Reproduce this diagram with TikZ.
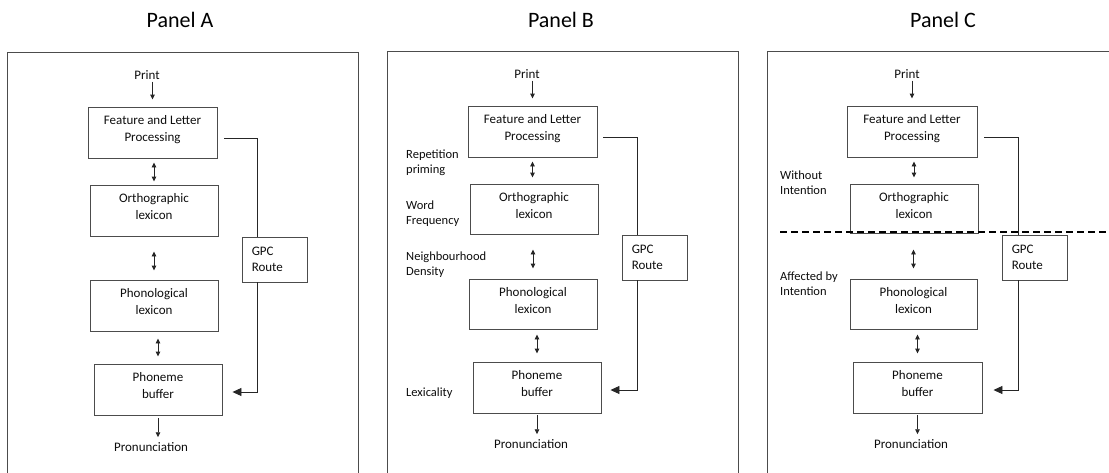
\documentclass[tikz,border=0pt]{standalone}
\usepackage{fontspec}
\setmainfont{Carlito}
\usetikzlibrary{arrows.meta}
\begin{document}
\begin{tikzpicture}[x=1pt,y=-1pt,
  frame/.style={draw=black!70,line width=0.9pt},
  box/.style={draw=black!70,line width=0.9pt,inner sep=0pt,minimum height=51pt},
  btext/.style={font=\fontsize{13}{16.5}\selectfont,align=center,inner sep=0pt,anchor=north,text=black!95},
  gtext/.style={font=\fontsize{13}{16.5}\selectfont,align=left,inner sep=0pt,anchor=west,text=black!95},
  ptext/.style={font=\fontsize{13}{16}\selectfont,inner sep=0pt,text=black!95},
  lbl/.style={font=\fontsize{12.5}{15}\selectfont,align=left,inner sep=0pt,anchor=west,text=black!95},
  title/.style={font=\fontsize{22}{26}\selectfont,inner sep=0pt,text=black},
  conn/.style={draw=black!85,line width=0.9pt},
  arr/.style={conn,-{Triangle[length=5pt,width=4.5pt]}},
  darr/.style={conn,{Triangle[length=5pt,width=4.5pt]}-{Triangle[length=5pt,width=4.5pt]}},
  garr/.style={conn,-{Triangle[length=9pt,width=8pt]}},
  divider/.style={draw=black,line width=1.8pt,dash pattern=on 7pt off 4pt}]
\useasboundingbox (0,0) rectangle (1109,472);

% titles
\node[title] (tA) at (180,20) {Panel A};
\node[title] (tB) at (561,20) {Panel B};
\node[title] (tC) at (943,20) {Panel C};

% frames
\draw[frame] (7,480) -- (7,52) -- (358,52) -- (358,480);
\draw[frame] (387,480) -- (387,51) -- (738,51) -- (738,480);
\draw[frame] (767,480) -- (767,51) -- (1115,51);

%%%%%%%% Panel A
\node[box,minimum width=129pt] (fA) at (152.5,132.5) {};
\node[box,minimum width=128pt] (oA) at (154,210.5) {};
\node[box,minimum width=128pt] (pA) at (154,305.5) {};
\node[box,minimum width=128pt] (mA) at (158,389.5) {};
\node[box,minimum width=65pt,minimum height=45pt] (gA) at (274.5,259.5) {};
\node[btext] (fAt) at ([yshift=-9pt]fA.north) {Feature and Letter\\Processing};
\node[btext] (oAt) at ([yshift=-9pt]oA.north) {Orthographic\\lexicon};
\node[btext] (pAt) at ([yshift=-9pt]pA.north) {Phonological\\lexicon};
\node[btext] (mAt) at ([yshift=-9pt]mA.north) {Phoneme\\buffer};
\node[gtext] (gAt) at ([xshift=10pt]gA.west) {GPC\\Route};
\node[ptext] (prA) at (147,75) {Print};
\node[ptext] (puA) at (151,447) {Pronunciation};
\draw[arr,shorten <=2pt,shorten >=7pt] (prA.south -| fA.north) -- (fA.north);
\draw[darr,shorten <=4pt,shorten >=3pt] (oA.north |- fA.south) -- (oA.north);
\draw[darr,shorten <=15pt,shorten >=9pt] (oA.south) -- (pA.north);
\draw[darr,shorten <=7pt,shorten >=7pt] (mA.north |- pA.south) -- (mA.north);
\draw[arr,shorten <=3pt,shorten >=5pt] (mA.south) -- (mA.south |- puA.north);
\draw[conn] ([shift={(7,5.5)}]fA.east) -| ([xshift=-17.5pt]gA.north);
\draw[garr] ([xshift=-17.5pt]gA.south) |- ([shift={(10,2.5)}]mA.east);

%%%%%%%% Panel B
\node[box,minimum width=129pt] (fB) at (532.5,131.5) {};
\node[box,minimum width=128pt,minimum height=50pt] (oB) at (534,209) {};
\node[box,minimum width=128pt,minimum height=50pt] (pB) at (533,304) {};
\node[box,minimum width=128pt] (mB) at (537,387.5) {};
\node[box,minimum width=65pt,minimum height=45pt] (gB) at (654.5,257.5) {};
\node[btext] (fBt) at ([yshift=-9pt]fB.north) {Feature and Letter\\Processing};
\node[btext] (oBt) at ([yshift=-9pt]oB.north) {Orthographic\\lexicon};
\node[btext] (pBt) at ([yshift=-9pt]pB.north) {Phonological\\lexicon};
\node[btext] (mBt) at ([yshift=-9pt]mB.north) {Phoneme\\buffer};
\node[gtext] (gBt) at ([xshift=10pt]gB.west) {GPC\\Route};
\node[ptext] (prB) at (527,74) {Print};
\node[ptext] (puB) at (531,444) {Pronunciation};
\draw[arr,shorten <=2pt,shorten >=7pt] (prB.south -| fB.north) -- (fB.north);
\draw[darr,shorten <=4pt,shorten >=6pt] (fB.south) -- (fB.south |- oB.north);
\draw[darr,shorten <=15pt,shorten >=10pt] (pB.north |- oB.south) -- (pB.north);
\draw[darr,shorten <=5pt,shorten >=8pt] (mB.north |- pB.south) -- (mB.north);
\draw[arr,shorten <=2pt,shorten >=5pt] (mB.south) -- (mB.south |- puB.north);
\draw[conn] ([shift={(6,5.5)}]fB.east) -| ([xshift=-17.5pt]gB.north);
\draw[garr] ([xshift=-17.5pt]gB.south) |- ([shift={(9,2.5)}]mB.east);
\node[lbl] (l1) at (406,162.5) {Repetition\\priming};
\node[lbl] (l2) at (406,213.5) {Word\\Frequency};
\node[lbl] (l3) at (406,264.5) {Neighbourhood\\Density};
\node[lbl] (l4) at (406,393) {Lexicality};

%%%%%%%% Panel C
\node[box,minimum width=130pt] (fC) at (912,131.5) {};
\node[box,minimum width=128pt,minimum height=49pt] (oC) at (914,208.5) {};
\node[box,minimum width=127pt,minimum height=50pt] (pC) at (913.5,304) {};
\node[box,minimum width=129pt] (mC) at (917.5,387.5) {};
\node[box,minimum width=65pt,minimum height=45pt] (gC) at (1034.5,257.5) {};
\node[btext] (fCt) at ([yshift=-9pt]fC.north) {Feature and Letter\\Processing};
\node[btext] (oCt) at ([yshift=-9pt]oC.north) {Orthographic\\lexicon};
\node[btext] (pCt) at ([yshift=-9pt]pC.north) {Phonological\\lexicon};
\node[btext] (mCt) at ([yshift=-9pt]mC.north) {Phoneme\\buffer};
\node[gtext] (gCt) at ([xshift=10pt]gC.west) {GPC\\Route};
\node[ptext] (prC) at (907,74) {Print};
\node[ptext] (puC) at (911,444) {Pronunciation};
\draw[arr,shorten <=2pt,shorten >=7pt] (prC.south -| fC.north) -- (fC.north);
\draw[darr,shorten <=4pt,shorten >=6pt] (oC.north |- fC.south) -- (oC.north);
\draw[darr,shorten <=16pt,shorten >=10pt] (pC.north |- oC.south) -- (pC.north);
\draw[darr,shorten <=5pt,shorten >=8pt] (mC.north |- pC.south) -- (mC.north);
\draw[arr,shorten <=2pt,shorten >=5pt] (mC.south) -- (mC.south |- puC.north);
\draw[conn] ([shift={(7,5.5)}]fC.east) -| ([xshift=-16.5pt]gC.north);
\draw[garr] ([xshift=-16.5pt]gC.south) |- ([shift={(11,2.5)}]mC.east);
\node[lbl] (l5) at (780,182.5) {Without\\Intention};
\node[lbl] (l6) at (780,283.5) {Affected by\\Intention};
\coordinate (dL) at (780,232);
\coordinate (dR) at (1109,232);
\draw[divider] (dL) -- (dR);
\end{tikzpicture}
\end{document}
